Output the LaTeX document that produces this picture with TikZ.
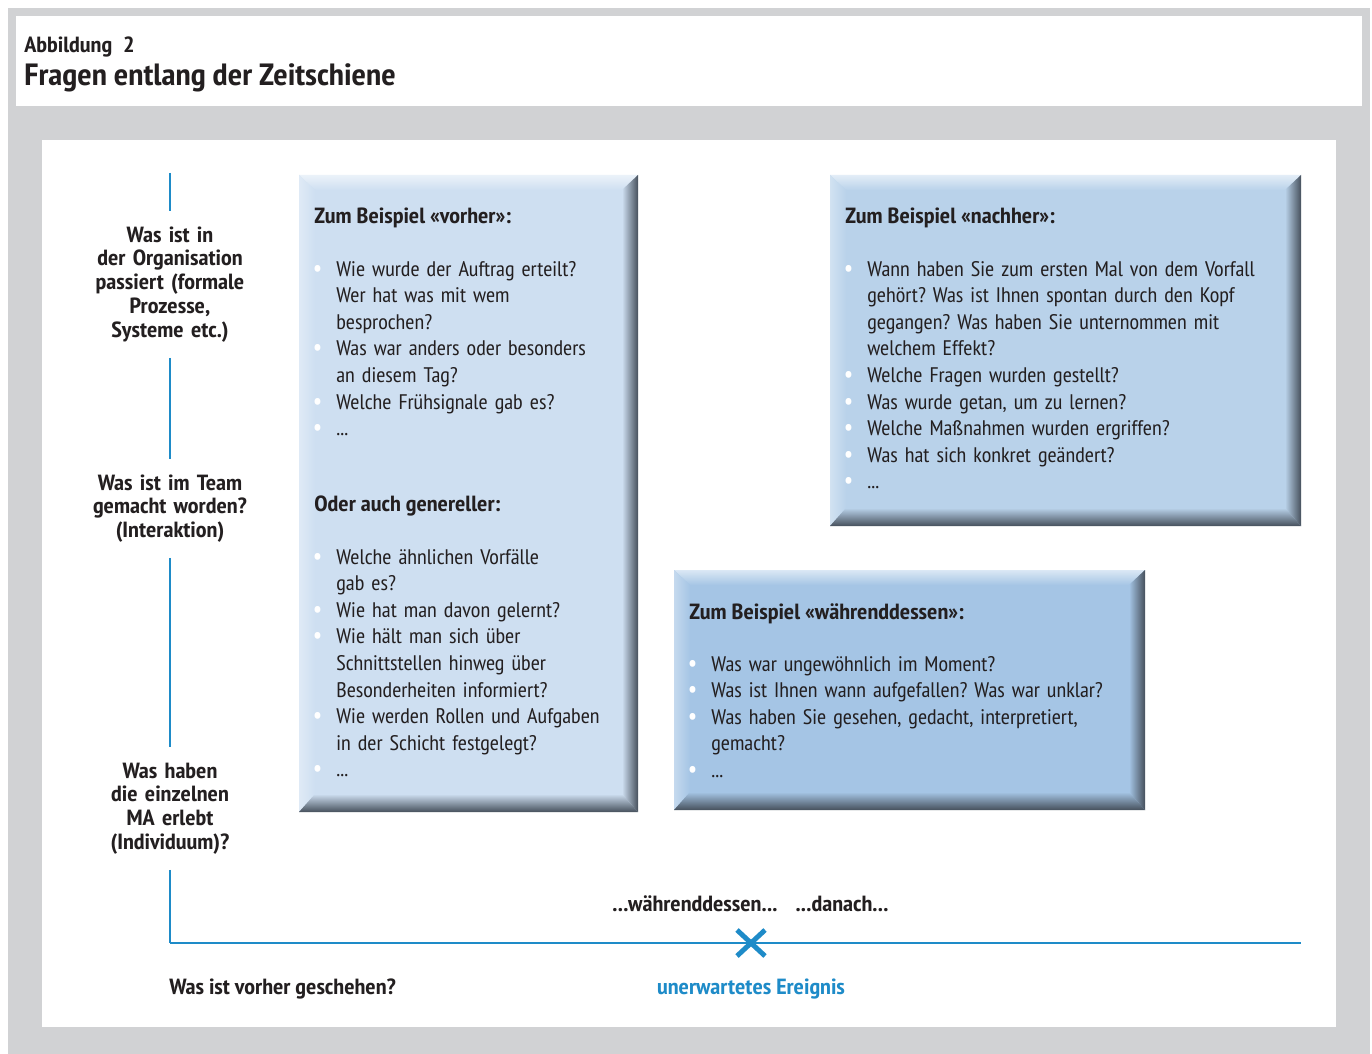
\documentclass[tikz,border=0pt]{standalone}
\usepackage{fontspec}
\setmainfont{PT Sans Narrow}[UprightFeatures={FakeStretch=1.05}, BoldFeatures={FakeStretch=1.1}]
\frenchspacing

\definecolor{rahmengrau}{HTML}{D1D2D4}
\definecolor{achsblau}{HTML}{1E8BC8}
\definecolor{kastenA}{HTML}{CEDFF1}
\definecolor{kastenB}{HTML}{B9D2EA}
\definecolor{kastenC}{HTML}{A5C5E5}
\definecolor{kantedunkel}{HTML}{46505C}
\definecolor{schrift}{HTML}{231F20}

% Aufzaehlungspunkt mit haengendem Einzug
\newcommand{\punkt}{\noindent\hangindent=0.44cm\hangafter=1\makebox[0.44cm][l]{\hspace{-0.03cm}\textcolor{white}{\fontsize{14}{14}\selectfont\textbullet}}}

% Kasten mit Kanten: x0, y0, x1, y1, Farbe
\newcommand{\kasten}[5]{%
  \fill[#5] (#1,#2) rectangle (#3,#4);
  \shade[top color=white!60!#5, bottom color=#5] (#1,#2) -- (#3,#2) -- (#3-16,#2+15) -- (#1+16,#2+15) -- cycle;
  \shade[left color=white!35!#5, right color=#5] (#1,#2) -- (#1+16,#2+15) -- (#1+16,#4-18) -- (#1,#4) -- cycle;
  \shade[left color=#5, right color=kantedunkel] (#3,#2) -- (#3,#4) -- (#3-16,#4-18) -- (#3-16,#2+15) -- cycle;
  \shade[top color=#5, bottom color=kantedunkel] (#1,#4) -- (#3,#4) -- (#3-16,#4-18) -- (#1+16,#4-18) -- cycle;
}

\begin{document}
\begin{tikzpicture}[x=0.02cm, y=-0.02cm,
		frage/.style={font=\fontsize{12}{15.14}\selectfont, text=schrift, anchor=base west, inner sep=0, align=left, text width=9cm},
		kopf/.style={font=\bfseries\fontsize{12.5}{15.14}\selectfont, text=schrift, anchor=base west, inner sep=0},
		ebene/.style={font=\bfseries\fontsize{12.5}{13.6}\selectfont, text=schrift, anchor=base, inner xsep=0, inner ysep=0.3cm, align=center, text width=3.4cm},
		fett/.style={font=\bfseries\fontsize{12.5}{13.6}\selectfont, text=schrift, inner sep=0},
		achse/.style={draw=achsblau, line width=1.6pt},
		zeitachse/.style={draw=achsblau, line width=1.2pt},
		kreuz/.style={draw=achsblau, line width=2.8pt}
		]
		
		\useasboundingbox (0,0) rectangle (1372,1054);
		\fill[white] (0,0) rectangle (1372,1054);
		\fill[rahmengrau] (8,8) rectangle (1370,1054);
		\fill[white] (16,16) rectangle (1362,106);
		\fill[white] (42,140) rectangle (1336,1027);
		
		\node[kopf, font=\bfseries\fontsize{12.5}{14}\selectfont] (abb) at (24,53) {Abbildung\hspace{0.5em}2};
		\node[kopf, font=\bfseries\fontsize{17.5}{20}\selectfont] (titel) at (24,86) {Fragen entlang der Zeitschiene};
		
		\kasten{299}{175}{638}{812}{kastenA}
		\kasten{830}{175}{1301}{526}{kastenB}
		\kasten{674}{570}{1145}{810}{kastenC}
		
		\node[kopf] (vorherkopf) at (314,224) {Zum Beispiel «vorher»:};
		\node[frage] (vorherliste) at (314,276) {%
			\punkt Wie wurde der Auftrag erteilt?\newline Wer hat was mit wem\newline besprochen?\par
			\punkt Was war anders oder besonders\newline an diesem Tag?\par
			\punkt Welche Frühsignale gab es?\par
			\punkt ...};
		\node[kopf] (generellkopf) at (314,511) {Oder auch genereller:};
		\node[frage] (generellliste) at (314,564) {%
			\punkt Welche ähnlichen Vorfälle\newline gab es?\par
			\punkt Wie hat man davon gelernt?\par
			\punkt Wie hält man sich über\newline Schnittstellen hinweg über\newline Besonderheiten informiert?\par
			\punkt Wie werden Rollen und Aufgaben\newline in der Schicht festgelegt?\par
			\punkt ...};
		
		\node[kopf] (nachherkopf) at (845,224) {Zum Beispiel «nachher»:};
		\node[frage] (nachherliste) at (845,276) {%
			\punkt Wann haben Sie zum ersten Mal von dem Vorfall\newline gehört? Was ist Ihnen spontan durch den Kopf\newline gegangen? Was haben Sie unternommen mit\newline welchem Effekt?\par
			\punkt Welche Fragen wurden gestellt?\par
			\punkt Was wurde getan, um zu lernen?\par
			\punkt Welche Maßnahmen wurden ergriffen?\par
			\punkt Was hat sich konkret geändert?\par
			\punkt ...};
		
		\node[kopf] (waehrendkopf) at (689,619) {Zum Beispiel «währenddessen»:};
		\node[frage] (waehrendliste) at (689,671) {%
			\punkt Was war ungewöhnlich im Moment?\par
			\punkt Was ist Ihnen wann aufgefallen? Was war unklar?\par
			\punkt Was haben Sie gesehen, gedacht, interpretiert,\newline gemacht?\par
			\punkt ...};
		
		\node[ebene] (org) at (170,242) {Was ist in\\der Organisation\\passiert (formale\\Prozesse,\\Systeme etc.)};
		\node[ebene] (team) at (170,490) {Was ist im Team\\gemacht worden?\\(Interaktion)};
		\node[ebene] (ma) at (170,778) {Was haben\\die einzelnen\\MA erlebt\\(Individuum)?};
		
		\coordinate (achsoben) at (170,173);
		\coordinate (achsecke) at (170,943);
		\coordinate (achsende) at (1301,943);
		\coordinate (ereignis) at (751,943);
		
		\draw[achse] (achsoben) -- (org.north);
		\draw[achse] (org.south) -- (team.north);
		\draw[achse] (team.south) -- (ma.north);
		\draw[achse] (ma.south) -- (achsecke);
		\draw[zeitachse] (achsecke) -- (achsende);
		\draw[kreuz] ([shift={(-14,-13)}]ereignis) -- ([shift={(14,13)}]ereignis);
		\draw[kreuz] ([shift={(-14,13)}]ereignis) -- ([shift={(14,-13)}]ereignis);
		
		\node[fett, anchor=base] (waehrend) at (695,911) {...währenddessen...};
		\node[fett, anchor=base] (danach) at (842,911) {...danach...};
		\node[fett, anchor=base west] (vorher) at (169,994) {Was ist vorher geschehen?};
		\node[fett, anchor=base, text=achsblau] (ereignistext) at (751,994) {unerwartetes Ereignis};
		
	\end{tikzpicture}
\end{document}
